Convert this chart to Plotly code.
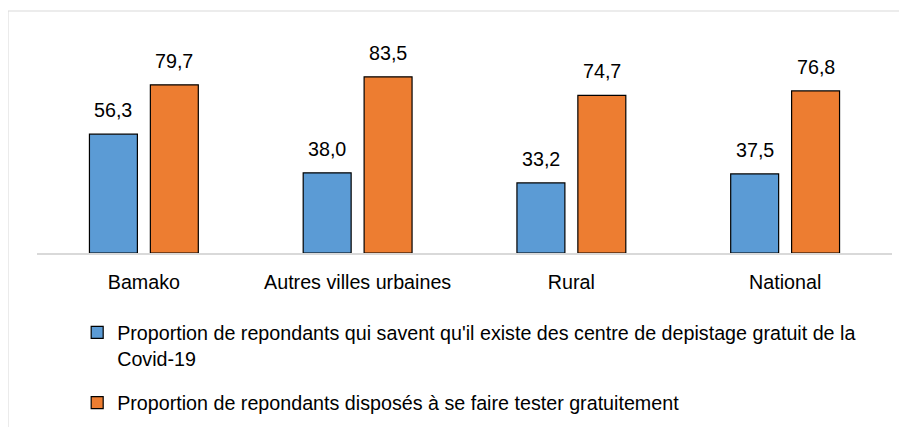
import plotly.graph_objects as go

categories = ["Bamako", "Autres villes urbaines", "Rural", "National"]
series1_name = "Proportion de repondants qui savent qu'il existe des centre de depistage gratuit de la<br>Covid-19"
series2_name = "Proportion de repondants disposés à se faire tester gratuitement"
series1_values = [56.3, 38.0, 33.2, 37.5]
series2_values = [79.7, 83.5, 74.7, 76.8]

BLUE = "#5B9BD5"
ORANGE = "#ED7D31"
FONT = "Liberation Sans, Arial, sans-serif"
FS = 19.7

fig = go.Figure()
fig.add_trace(go.Bar(
    x=categories, y=series1_values, name=series1_name,
    marker=dict(color=BLUE, line=dict(color="#000000", width=1.2)),
    legendgroup="a",
))
fig.add_trace(go.Bar(
    x=categories, y=series2_values, name=series2_name,
    marker=dict(color=ORANGE, line=dict(color="#000000", width=1.2)),
    legendgroup="b",
))

annotations = []
for shift, vals in ((-30.5, series1_values), (30.5, series2_values)):
    for c, v in zip(categories, vals):
        annotations.append(dict(
            x=c, y=v, xref="x", yref="y", text=f"{v:.1f}".replace(".", ","),
            showarrow=False, xshift=shift, yanchor="bottom", yshift=11,
            font=dict(family=FONT, size=FS, color="#000000"),
        ))

fig.update_layout(
    width=907, height=427,
    margin=dict(l=29, r=23, t=34, b=182),
    paper_bgcolor="white", plot_bgcolor="white",
    barmode="group", bargap=0.43, bargroupgap=0.213,
    font=dict(family=FONT, size=FS, color="#000000"),
    xaxis=dict(showline=True, linecolor="#D9D9D9", linewidth=1.5,
               ticks="outside", ticklen=11, tickcolor="rgba(0,0,0,0)",
               tickfont=dict(size=FS, family=FONT, color="#000000"),
               showgrid=False, zeroline=False),
    yaxis=dict(range=[0, 100], visible=False, showgrid=False, zeroline=False),
    showlegend=True,
    legend=dict(orientation="v", x=0.047, xanchor="left", y=-0.285, yanchor="top",
                valign="top", tracegroupgap=16, traceorder="grouped",
                font=dict(family=FONT, size=FS, color="#000000"),
                bgcolor="rgba(0,0,0,0)"),
    annotations=annotations,
    shapes=[dict(type="rect", xref="paper", yref="paper",
                 x0=-0.034, x1=1.2, y0=-1.5, y1=1.147,
                 line=dict(color="#D9D9D9", width=1.2), fillcolor="rgba(0,0,0,0)",
                 layer="below")],
)

fig.write_html("out.html")
